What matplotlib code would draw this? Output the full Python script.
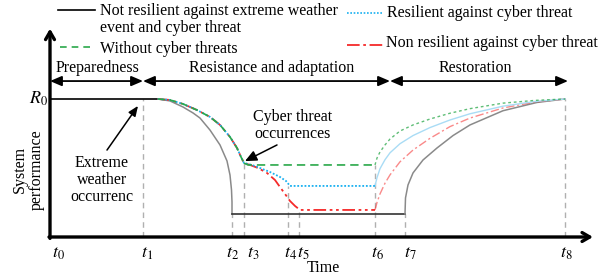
import numpy as np
import matplotlib
matplotlib.use("Agg")
from matplotlib import pyplot as plt

plt.rcParams['font.family'] = ['Liberation Serif', 'DejaVu Serif']
plt.rcParams['mathtext.fontset'] = 'stix'

# time marks t0..t8 and performance levels (R0 = 1)
t_marks = [0.0, 0.93, 1.82, 1.94, 2.38, 2.49, 3.25, 3.55, 5.15]
t_names = ['$t_0$', '$t_1$', '$t_2$', '$t_3$', '$t_4$', '$t_5$', '$t_6$', '$t_7$', '$t_8$']
mark_top = [None, 1.0, 0.167, 0.536, 0.370, 0.196, 0.522, 0.167, 1.0]

# not resilient against weather and cyber threat (black / grey)
black_t = [0.0, 1.08]
black_p = [1.0, 1.0]
drop_t = [1.08, 1.20, 1.33, 1.43, 1.50, 1.60, 1.70, 1.77, 1.80, 1.815, 1.82, 1.82]
drop_p = [1.0, 0.986, 0.942, 0.899, 0.862, 0.775, 0.667, 0.551, 0.449, 0.341, 0.254, 0.167]
floor_t = [1.82, 3.55]
floor_p = [0.167, 0.167]
rise_t = [3.55, 3.555, 3.58, 3.63, 3.73, 3.87, 4.03, 4.20, 4.53, 4.87, 5.15]
rise_p = [0.167, 0.283, 0.377, 0.464, 0.558, 0.645, 0.735, 0.812, 0.915, 0.975, 1.0]

# common decline of the cyber scenarios up to t3
dec_t = [1.08, 1.20, 1.33, 1.47, 1.60, 1.70, 1.80, 1.87, 1.91, 1.94]
dec_p = [1.0, 0.993, 0.964, 0.920, 0.870, 0.812, 0.725, 0.645, 0.580, 0.536]

# recovery sample times (t6 -> t8)
rec_t = [3.25, 3.27, 3.30, 3.35, 3.40, 3.50, 3.63, 3.80, 4.00, 4.20, 4.53, 4.85, 5.15]

# without cyber threats (green)
green_t = [1.94, 1.98, 3.25]
green_p = [0.536, 0.522, 0.522]
green_rec = [0.522, 0.572, 0.616, 0.667, 0.710, 0.768, 0.812, 0.855, 0.897, 0.930, 0.970, 0.990, 1.0]

# resilient against cyber threat (blue)
blue_t = [1.94, 2.02, 2.10, 2.20, 2.30, 2.36, 2.40, 3.25]
blue_p = [0.536, 0.522, 0.500, 0.471, 0.435, 0.406, 0.370, 0.370]
blue_rec = [0.370, 0.430, 0.495, 0.560, 0.610, 0.676, 0.735, 0.793, 0.848, 0.893, 0.948, 0.982, 1.0]

# non resilient against cyber threat (red)
red_t = [1.94, 2.00, 2.08, 2.17, 2.25, 2.30, 2.35, 2.40, 2.45, 2.50, 3.25]
red_p = [0.536, 0.522, 0.500, 0.464, 0.413, 0.362, 0.312, 0.261, 0.225, 0.196, 0.196]
red_rec = [0.196, 0.250, 0.312, 0.390, 0.450, 0.545, 0.630, 0.715, 0.800, 0.862, 0.935, 0.978, 1.0]

# phase boundaries
phases = [0.0, 0.93, 3.40, 5.18]
phase_names = ['Preparedness', 'Resistance and adaptation', 'Restoration']

green = '#2aa84a'
blue = '#1ab0f0'
red = '#f52a2a'
grey = '#8a8a8a'

fig = plt.figure(figsize=(6.07, 2.75), dpi=100)
ax = fig.add_axes([0, 0, 1, 1])
ax.set_xlim(-0.50, 5.57)
ax.set_ylim(-38 / 138, 237 / 138)
ax.axis('off')

fs = 11.5

# guide lines
for t, top in zip(t_marks, mark_top):
    if top is not None:
        ax.plot([t, t], [0, top], color='#b0b0b0', lw=1, ls=(0, (4, 3)), zorder=1)

# curves
ax.plot(black_t, black_p, color='black', lw=1.2, zorder=3)
ax.plot(drop_t, drop_p, color=grey, lw=1.1, zorder=3)
ax.plot(floor_t, floor_p, color='#333333', lw=1.2, zorder=3)
ax.plot(rise_t, rise_p, color=grey, lw=1.1, zorder=3)

ax.plot(dec_t + red_t[1:], dec_p + red_p[1:], color=red, lw=1.3, ls=(0, (7, 2, 1.5, 2, 1.5, 2)), zorder=4)
ax.plot(rec_t, red_rec, color=red, lw=1.0, alpha=0.55, ls=(0, (6, 2, 1.5, 2)), zorder=4)

ax.plot(dec_t + blue_t[1:], dec_p + blue_p[1:], color=blue, lw=1.3, ls=(0, (1, 1)), zorder=5)
ax.plot(rec_t, blue_rec, color='#a9dcf5', lw=1.0, zorder=4)

ax.plot(dec_t, dec_p, color=green, lw=1.2, ls=(0, (4, 3)), zorder=6)
ax.plot(green_t, green_p, color=green, lw=1.2, ls=(0, (5, 3)), zorder=6)
ax.plot(rec_t, green_rec, color=green, lw=1.0, alpha=0.75, ls=(0, (2, 2)), zorder=4)

# axes with arrows
ax.annotate('', xy=(0, 1.51), xytext=(0, -0.01),
            arrowprops=dict(arrowstyle='->,head_length=0.55,head_width=0.32', lw=2.4,
                            color='black', shrinkA=0, shrinkB=0), zorder=7)
ax.annotate('', xy=(5.43, 0), xytext=(-0.01, 0),
            arrowprops=dict(arrowstyle='->,head_length=0.55,head_width=0.32', lw=2.4,
                            color='black', shrinkA=0, shrinkB=0), zorder=7)

# phase arrows
for a, b in zip(phases[:-1], phases[1:]):
    ax.annotate('', xy=(b, 1.13), xytext=(a, 1.13),
                arrowprops=dict(arrowstyle='<|-|>,head_length=0.7,head_width=0.3', lw=1.3,
                                color='black', shrinkA=0, shrinkB=0))
ax.text(0.48, 1.196, phase_names[0], ha='center', va='baseline', fontsize=fs)
ax.text(2.22, 1.196, phase_names[1], ha='center', va='baseline', fontsize=fs)
ax.text(4.25, 1.196, phase_names[2], ha='center', va='baseline', fontsize=fs)

# time labels
lab_off = [0.08, 0.04, 0.01, 0.09, 0.03, 0.04, 0.02, 0.05, 0.01]
for t, name, o in zip(t_marks, t_names, lab_off):
    ax.text(t + o, -0.116, name, ha='center', va='center', fontsize=13)

ax.text(-0.02, 1.0, '$R_0$', ha='right', va='center', fontsize=13)
ax.text(2.73, -0.225, 'Time', ha='center', va='center', fontsize=fs)
ax.text(-0.22, 0.486, 'System\nperformance', ha='center', va='center', fontsize=fs,
        rotation=90, linespacing=1.1)

# annotations
ax.text(0.52, 0.413, 'Extreme\nweather\noccurrenc', ha='center', va='center',
        fontsize=fs, linespacing=1.1)
ax.annotate('', xy=(0.88, 0.95), xytext=(0.57, 0.63),
            arrowprops=dict(arrowstyle='-|>,head_length=0.6,head_width=0.25', lw=1.1,
                            color='black', shrinkA=0, shrinkB=0))
ax.text(2.43, 0.81, 'Cyber threat\noccurrences', ha='center', va='center',
        fontsize=fs, linespacing=1.1)
ax.annotate('', xy=(1.95, 0.55), xytext=(2.27, 0.667),
            arrowprops=dict(arrowstyle='-|>,head_length=0.7,head_width=0.32', lw=1.1,
                            color='black', shrinkA=0, shrinkB=0))

# legend
ax.plot([0.08, 0.45], [1.645, 1.645], color='black', lw=1.2)
ax.text(0.50, 1.609, 'Not resilient against extreme weather', fontsize=fs, va='baseline')
ax.text(0.50, 1.486, 'event and cyber threat', fontsize=fs, va='baseline')
ax.plot([0.10, 0.45], [1.377, 1.377], color=green, lw=1.2, ls=(0, (4, 3)))
ax.text(0.50, 1.333, 'Without cyber threats', fontsize=fs, va='baseline')
ax.plot([2.97, 3.32], [1.623, 1.623], color=blue, lw=1.2, ls=(0, (1, 1)))
ax.text(3.37, 1.594, 'Resilient against cyber threat', fontsize=fs, va='baseline')
ax.plot([2.97, 3.33], [1.391, 1.391], color=red, lw=1.3, ls=(0, (7, 2, 1.5, 2)))
ax.text(3.36, 1.377, 'Non resilient against cyber threat', fontsize=fs, va='baseline')

fig.savefig('out.png', dpi=100)
